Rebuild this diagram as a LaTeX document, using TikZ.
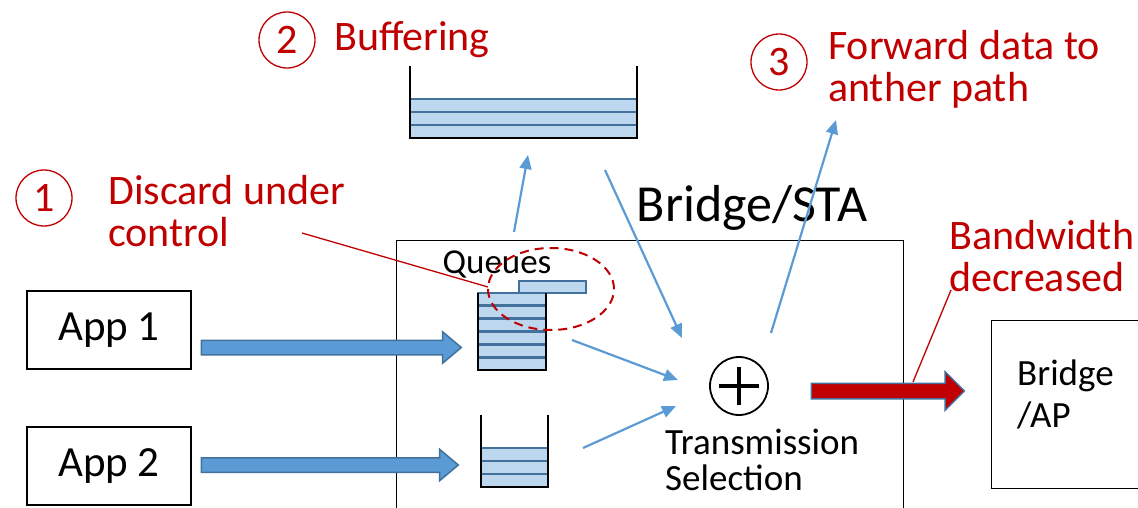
\documentclass[tikz,border=0pt]{standalone}
\usepackage{fontspec}
\setmainfont{Carlito}
\usetikzlibrary{shapes.arrows,shapes.geometric,arrows.meta}
\definecolor{alertred}{HTML}{C00000}
\definecolor{flowblue}{HTML}{5B9BD5}
\definecolor{edgeblue}{HTML}{41719C}
\definecolor{qfill}{HTML}{BDD7EE}

\begin{document}
\begin{tikzpicture}[x=1pt,y=-1pt,
    appbox/.style={draw, line width=1.2pt, minimum width=164, minimum height=78, font=\fontsize{43}{44}\selectfont},
    note/.style={alertred, inner sep=0, align=left, anchor=west, font=\fontsize{42}{42}\selectfont},
    numring/.style={circle, draw=alertred, line width=1.3pt, text=alertred, minimum size=56, inner sep=0, font=\fontsize{42}{42}\selectfont},
    qrow/.style={fill=qfill, draw=edgeblue, line width=2.2pt},
    wall/.style={line width=1.5pt},
    flow/.style={flowblue, line width=2.2pt, -{Triangle[length=14pt,width=12pt]}},
    fatarrow/.style={single arrow, fill=flowblue, draw=edgeblue, line width=1.5pt, inner xsep=0, inner ysep=6.5pt, single arrow tip angle=80},
    pointer/.style={alertred, line width=1.3pt}
  ]
  \useasboundingbox (0,0) rectangle (1138,508);

  % boxes
  \node[appbox] (app1) at (109,330) {App 1};
  \node[appbox] (app2) at (109,466) {App 2};
  \node[draw, line width=1.2pt, minimum width=507, minimum height=290, anchor=north west] (sta) at (396,240) {};
  \node[inner sep=0, font=\fontsize{52}{52}\selectfont] (stalabel) at (752,208) {Bridge/STA};
  \node[draw, line width=1.2pt, minimum width=170, minimum height=168, anchor=north west] (ap) at (991,320) {};
  \node[inner sep=0, align=left, anchor=west, font=\fontsize{37}{42}\selectfont] (aplabel) at (1017,394) {Bridge\\/AP};

  % queues
  \foreach \y in {99,112,125} \draw[qrow] (410,\y) rectangle (637,\y+13);
  \draw[wall] (410,66) |- (637,138) -- (637,66);
  \node[inner sep=0, minimum width=227, minimum height=39] (buf) at (523.5,118.5) {};

  \draw[qrow] (519,281) rectangle (586,293);
  \foreach \y in {293,306,319,332,345,358} \draw[qrow] (478,\y) rectangle (546,\y+12);
  \draw[wall] (478,293) |- (546,370) -- (546,293);
  \node[inner sep=0, minimum width=68, minimum height=77] (q1) at (512,331.5) {};
  \node[inner sep=0, font=\fontsize{35}{35}\selectfont] (qlabel) at (497,264) {Queues};

  \foreach \y in {448,461,474} \draw[qrow] (481,\y) rectangle (548,\y+13);
  \draw[wall] (481,415) |- (548,487) -- (548,415);
  \node[inner sep=0, minimum width=67, minimum height=39] (q2) at (514.5,467.5) {};

  % transmission selection
  \node[circle, draw, line width=1.8pt, minimum size=58, inner sep=0] (sel) at (739,386) {};
  \draw[line width=3.5pt] ([xshift=-20]sel.center) -- ([xshift=20]sel.center);
  \draw[line width=3.5pt] ([yshift=-19]sel.center) -- ([yshift=19]sel.center);
  \node[inner sep=0, align=left, anchor=west, font=\fontsize{37}{36}\selectfont] (sellabel) at (665,460) {Transmission\\Selection};

  % fat arrows
  \node[fatarrow, minimum height=260, minimum width=30, single arrow head extend=8.5] (in1) at (327,347.5) {};
  \node[fatarrow, minimum height=257, minimum width=30, single arrow head extend=8.5] (in2) at (325.5,465) {};
  \node[fatarrow, fill=alertred, inner ysep=7pt, minimum height=153, minimum width=37, single arrow head extend=11.5, single arrow tip angle=90] (out) at (884,391) {};

  % dashed drop zone
  \node[ellipse, draw=alertred, dash pattern=on 9pt off 6pt, line width=2pt, minimum width=126, minimum height=82, inner sep=0] (drop) at (551,289) {};

  % thin flows
  \coordinate (f1s) at (514,232);
  \coordinate (f1e) at (528,155);
  \coordinate (f2s) at (605,170);
  \coordinate (f2e) at (682,338);
  \coordinate (f3s) at (572,340);
  \coordinate (f3e) at (678,380);
  \coordinate (f4s) at (583,448);
  \coordinate (f4e) at (676,406);
  \coordinate (f5s) at (771,333);
  \coordinate (f5e) at (836,120);
  \draw[flow] (f1s) -- (f1e);
  \draw[flow] (f2s) -- (f2e);
  \draw[flow] (f3s) -- (f3e);
  \draw[flow] (f4s) -- (f4e);
  \draw[flow] (f5s) -- (f5e);

  % annotations
  \node[numring] (n1) at (44,198) {1};
  \node[note] (t1) at (108,211) {Discard under\\control};
  \node[numring] (n2) at (287,40) {2};
  \node[note] (t2) at (334,40) {Buffering};
  \node[numring] (n3) at (779,62) {3};
  \node[note] (t3) at (828,69) {Forward data to\\anther path};
  \node[note] (t4) at (949,256) {Bandwidth\\decreased};

  \coordinate (p1s) at (302,233);
  \coordinate (p1e) at (488,287);
  \coordinate (p2s) at (951,290);
  \coordinate (p2e) at (913,382);
  \draw[pointer] (p1s) -- (p1e);
  \draw[pointer] (p2s) -- (p2e);
\end{tikzpicture}
\end{document}
